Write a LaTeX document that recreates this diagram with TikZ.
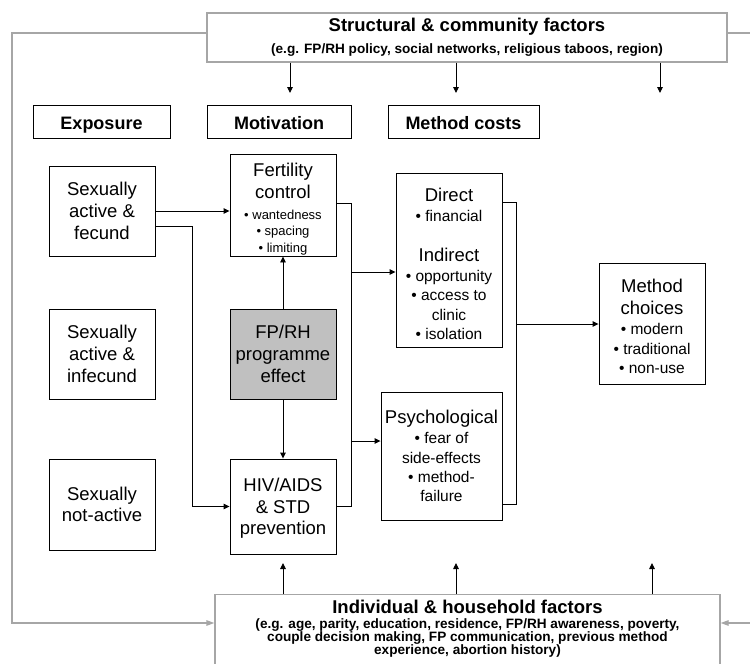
\documentclass[tikz,border=0pt]{standalone}
\usepackage{fontspec}
\setmainfont{Liberation Sans}
\usetikzlibrary{arrows.meta,calc}
\definecolor{lgray}{HTML}{A6A6A6}
\definecolor{fillgray}{HTML}{C0C0C0}
\newcommand{\bigtxt}{\fontsize{18.5}{21.7}\selectfont}
\newcommand{\bl}{\fontsize{15.5}{19}\selectfont}
\newcommand{\sbl}{\fontsize{13}{16}\selectfont}
\newcommand{\ttl}{\fontsize{18.5}{21}\selectfont}
\begin{document}
\begin{tikzpicture}[x=1pt,y=-1pt,
  box/.style={draw=black,line width=0.9pt,align=center,inner sep=0pt,font=\bigtxt},
  hdr/.style={draw=black,line width=0.9pt,align=center,inner sep=0pt,font=\fontsize{18}{21}\selectfont\bfseries,minimum height=33pt,text height=17pt,text depth=2pt},
  gbox/.style={draw=lgray,line width=1.3pt,inner sep=0pt},
  gtxt/.style={align=center,inner sep=0pt,font=\fontsize{13.6}{13.3}\selectfont\bfseries},
  arr/.style={line width=0.9pt,-{Triangle[length=6pt,width=5.5pt]}},
  ln/.style={line width=0.9pt},
  garr/.style={draw=lgray,line width=1.3pt,-{Triangle[length=8pt,width=5.5pt]}},
  gln/.style={draw=lgray,line width=1.3pt}
]
\useasboundingbox (0,0) rectangle (750,664);

% structural box
\node[gbox,gtxt,minimum width=520pt,minimum height=49pt] (struct) at (467,37.5)
  {\ttl Structural \& community factors\\[7.5pt]
   (e.g. FP/RH policy, social networks, religious taboos, region)};

% headers
\node[hdr,minimum width=137pt] (expo) at (101.5,121.5) {Exposure};
\node[hdr,minimum width=144pt] (motiv) at (279,121.5) {Motivation};
\node[hdr,minimum width=151pt] (mcost) at (463.5,121.5) {Method costs};

% exposure column
\node[box,minimum width=106pt,minimum height=90pt] (fecund) at (102,211) {Sexually\\active \&\\fecund};
\node[box,minimum width=106pt,minimum height=90pt] (infecund) at (102,354) {Sexually\\active \&\\infecund};
\node[box,minimum width=106pt,minimum height=91pt] (notact) at (102,504.5) {Sexually\\not-active};

% motivation column
\node[box,minimum width=106pt,minimum height=102pt] (fert) at (283,205)
  {\rule{0pt}{21.5pt}Fertility\\control\\[-1pt]\sbl • wantedness\\[-5.5pt]\sbl • spacing\\[-5pt]\sbl • limiting};
\node[box,minimum width=106pt,minimum height=90pt,fill=fillgray] (fprh) at (283,354) {FP/RH\\programme\\effect};
\node[box,minimum width=106pt,minimum height=95pt,text depth=0pt] (hiv) at (283,506.5) {HIV/AIDS\\\& STD\\prevention};

% method costs
\node[box,minimum width=106pt,minimum height=174pt] (direct) at (449,260)
  {\rule{0pt}{21pt}Direct\\[-1.7pt]\bl • financial\\[18pt]Indirect\\[-1.7pt]\bl • opportunity\\[-2pt]\bl • access to\\[-2.5pt]\bl clinic\\[-2.5pt]\bl • isolation};
\node[box,minimum width=121pt,minimum height=128pt] (psych) at (441.5,456)
  {Psychological\\[-1.7pt]\bl • fear of\\[-2.5pt]\bl side-effects\\[-2.5pt]\bl • method-\\[-2.5pt]\bl failure};

% method choices
\node[box,minimum width=106pt,minimum height=121pt] (choices) at (652,323.5)
  {\rule{0pt}{19.5pt}Method\\choices\\[-1pt]\bl • modern\\[-2.5pt]\bl • traditional\\[-2pt]\bl • non-use};

% individual box
\node[gbox,minimum width=505pt,minimum height=100pt,anchor=north] (indiv) at (467.5,594) {};
\node[gtxt,anchor=north] (indivtxt) at (467.5,599.5)
  {\ttl Individual \& household factors\\[1.7pt]
   (e.g. age, parity, education, residence, FP/RH awareness, poverty,\\couple decision making, FP communication, previous method\\experience, abortion history)};

% coordinates
\coordinate (s1) at (290,93);
\coordinate (s2) at (456,93);
\coordinate (s3) at (660,93);
\coordinate (j1) at (192,0);
\coordinate (j2) at (351,0);
\coordinate (j3) at (516,0);
\coordinate (b1) at (351,272);
\coordinate (b2) at (351,441);
\coordinate (b3) at (516,324);
\coordinate (u1) at (283,563);
\coordinate (u2) at (456,563);
\coordinate (u3) at (652,563);
\coordinate (gl) at (12,623);
\coordinate (gr) at (750,623);
\coordinate (gt) at (750,33);

% structural arrows
\draw[arr] (s1 |- struct.south) -- (s1);
\draw[arr] (s2 |- struct.south) -- (s2);
\draw[arr] (s3 |- struct.south) -- (s3);

% exposure -> motivation
\draw[arr] (fecund.east) -- (fecund.east -| fert.west);
\draw[arr] ($(fecund.east)+(0,15)$) -| (j1 |- hiv.west) -- (hiv.west);
\draw[ln] ($(infecund.east)+(0,-7)$) -- ($(infecund.east)+(0,-7)$ -| j1);

% programme effect
\draw[arr] (fprh) -- (fert);
\draw[arr] (fprh) -- (hiv);

% motivation -> costs
\draw[ln] ($(fert.east)+(0,-2)$) -| (j2 |- hiv.east) -- (hiv.east);
\draw[arr] (b1) -- (b1 -| direct.west);
\draw[arr] (b2) -- (b2 -| psych.west);

% costs -> choices
\draw[ln] ($(direct.north east)+(0,30)$) -| ($(j3 |- psych.south east)+(0,-16)$) -- ($(psych.south east)+(0,-16)$);
\draw[arr] (b3) -- (b3 -| choices.west);

% individual arrows
\draw[arr] (u1 |- indiv.north) -- (u1);
\draw[arr] (u2 |- indiv.north) -- (u2);
\draw[arr] (u3 |- indiv.north) -- (u3);

% gray feedback lines
\draw[garr] ($(struct.west)+(0,-4.5)$) -| (gl) -- (gl -| indiv.west);
\draw[gln] ($(struct.east)+(0,-4.5)$) -- (gt);
\draw[garr] (gr) -- (gr -| indiv.east);
\end{tikzpicture}
\end{document}
